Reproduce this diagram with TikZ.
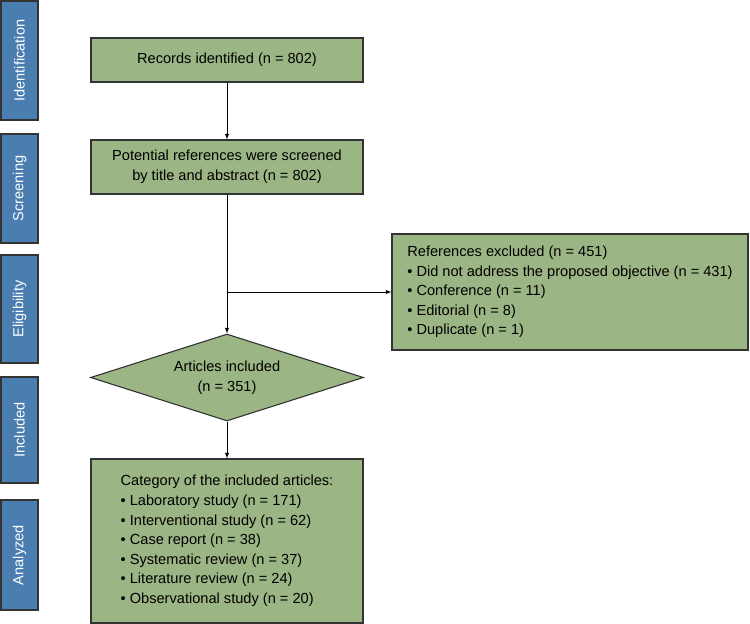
\documentclass[tikz,border=0pt]{standalone}
\usepackage{fontspec}
\setmainfont{Liberation Sans}
\usetikzlibrary{shapes.geometric}

\definecolor{stageblue}{HTML}{4A7EB0}
\definecolor{boxgreen}{HTML}{9BB584}
\definecolor{edgegray}{HTML}{333333}

\begin{document}
\begin{tikzpicture}[x=1pt,y=-1pt,>=latex,
    every node/.style={font=\fontsize{14.6}{19.6}\selectfont},
    stage/.style={draw=edgegray,fill=stageblue,line width=1.1pt,text=white,rotate=90,minimum height=37pt,inner sep=0pt},
    flowbox/.style={draw=edgegray,fill=boxgreen,line width=1.1pt,minimum width=272pt,inner sep=0pt},
    decision/.style={draw=edgegray,fill=boxgreen,line width=1.1pt,diamond,shape aspect=3.14,minimum width=273pt,minimum height=87pt,inner sep=0pt,align=center},
    link/.style={->,line width=0.9pt}]
    \useasboundingbox (0,0) rectangle (750,624);
    % Bandes des phases
    \node[stage,minimum width=119pt] (ident) at (19.5,60.5) {Identification};
    \node[stage,minimum width=109pt] (screening) at (19.5,188.5) {Screening};
    \node[stage,minimum width=108pt] (elig) at (19.5,309) {Eligibility};
    \node[stage,minimum width=106pt] (included) at (19.5,430) {Included};
    \node[stage,minimum width=110pt] (analyzed) at (19.5,555) {Analyzed};
    % Boîtes du diagramme
    \node[flowbox,minimum height=44pt] (records) at (227,60) {Records identified (n = 802)};
    \node[flowbox,minimum height=54pt,align=center] (screen) at (227,167) {Potential references were screened\\by title and abstract (n = 802)};
    \node[decision] (articles) at (227,377.5) {Articles included\\(n = 351)};
    \node[flowbox,minimum width=356pt,minimum height=116pt,align=left] (excl) at (570,292) {References excluded (n = 451)\\\textbullet{} Did not address the proposed objective (n = 431)\\\textbullet{} Conference (n = 11)\\\textbullet{} Editorial (n = 8)\\\textbullet{} Duplicate (n = 1)};
    \node[flowbox,minimum height=164pt,align=left] (category) at (227,541) {Category of the included articles:\\\textbullet{} Laboratory study (n = 171)\\\textbullet{} Interventional study (n = 62)\\\textbullet{} Case report (n = 38)\\\textbullet{} Systematic review (n = 37)\\\textbullet{} Literature review (n = 24)\\\textbullet{} Observational study (n = 20)};
    % Flèches
    \coordinate (split) at (screen.south |- excl.west);
    \draw[link] (records) -- (screen);
    \draw[link] (screen) -- (articles);
    \draw[link] (split) -- (excl.west);
    \draw[link] (articles) -- (category);
\end{tikzpicture}
\end{document}
